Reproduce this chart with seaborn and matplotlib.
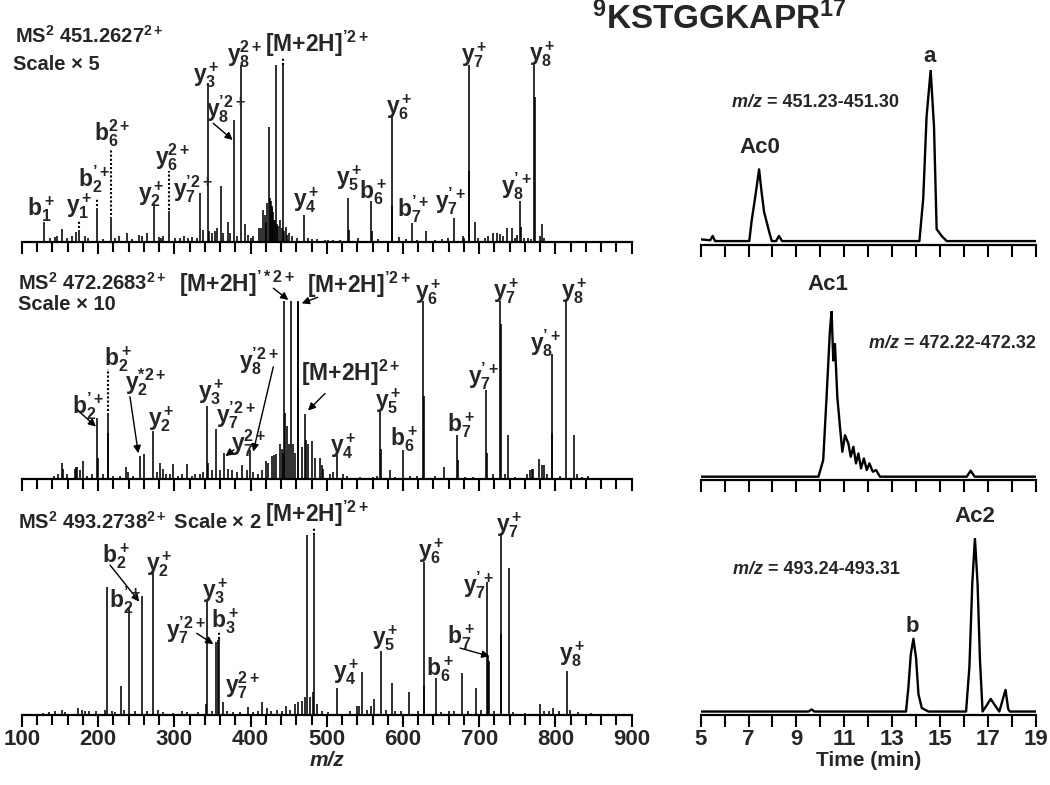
import matplotlib
matplotlib.use("Agg")
import matplotlib.pyplot as plt
import seaborn as sns
import pandas as pd
from matplotlib.ticker import MultipleLocator, FixedLocator

# ---------------- data ----------------
# MS2 451.2627 (2+) : m/z positions and relative intensities
ms1_mz = [129.3, 136.7, 143.3, 146.3, 152.1, 158.7, 165.2, 170.9, 175.2, 182.7, 187.0, 198.4, 206.7,
          216.8, 222.0, 227.7, 237.8, 243.9, 253.9, 257.0, 263.6, 272.8, 280.2, 282.8, 285.4, 292.9,
          300.8, 307.3, 313.0, 318.2, 322.7, 329.3, 334.0, 337.1, 344.1, 345.1, 348.9, 353.3, 355.9,
          360.8, 364.2, 369.9, 373.0, 378.2, 382.2, 387.8, 392.7, 397.0, 400.1, 403.5, 410.6, 413.6,
          416.3, 418.9, 420.2, 421.9, 424.1, 425.5, 426.4, 427.7, 428.5, 429.8, 430.7, 432.0, 433.3,
          435.1, 436.4, 438.6, 440.8, 442.1, 443.8, 446.5, 448.2, 450.8, 453.9, 460.5, 470.5, 475.7,
          480.2, 486.7, 497.6, 501.9, 508.5, 517.3, 527.8, 528.8, 541.4, 558.4, 559.4, 567.6, 585.2,
          586.2, 595.2, 604.0, 611.8, 618.0, 630.2, 642.0, 650.8, 659.5, 667.3, 678.3, 680.4, 686.2,
          687.2, 694.9, 698.8, 707.6, 711.9, 718.5, 722.9, 727.3, 730.8, 736.9, 743.5, 747.0, 749.2,
          754.0, 755.0, 758.8, 764.4, 768.0, 772.3, 773.3, 779.8, 782.0, 785.0]
ms1_int = [0.113, 0.02, 0.025, 0.03, 0.07, 0.02, 0.03, 0.057, 0.066, 0.03, 0.02, 0.19, 0.015,
           0.14, 0.02, 0.03, 0.05, 0.015, 0.038, 0.03, 0.05, 0.213, 0.025, 0.02, 0.03, 0.174,
           0.02, 0.02, 0.03, 0.02, 0.025, 0.02, 0.277, 0.066, 0.896, 0.06, 0.05, 0.06, 0.075,
           0.315, 0.05, 0.113, 0.05, 0.689, 0.03, 1.0, 0.10, 0.04, 0.02, 0.03, 0.08, 0.08,
           0.18, 0.15, 0.11, 0.22, 0.647, 0.25, 0.23, 0.20, 0.19, 0.17, 0.12, 0.12, 1.0,
           0.10, 0.09, 0.12, 0.08, 1.0, 0.06, 0.085, 0.04, 0.05, 0.03, 0.02, 0.15, 0.02,
           0.015, 0.015, 0.01, 0.01, 0.01, 0.01, 0.25, 0.066, 0.02, 0.228, 0.06, 0.015, 0.717,
           0.20, 0.025, 0.015, 0.104, 0.01, 0.062, 0.01, 0.015, 0.02, 0.132, 0.03, 0.02, 1.0,
           0.40, 0.113, 0.02, 0.02, 0.03, 0.05, 0.05, 0.045, 0.03, 0.075, 0.075, 0.02, 0.04,
           0.232, 0.085, 0.02, 0.02, 0.015, 1.0, 0.82, 0.03, 0.10, 0.02]

# MS2 472.2683 (2+)
ms2_mz = [142.4, 147.6, 152.0, 154.2, 158.7, 169.6, 170.9, 172.6, 176.1, 180.5, 185.7, 191.4, 198.8,
          199.8, 205.9, 212.4, 213.4, 219.0, 228.6, 236.5, 239.5, 246.1, 254.9, 260.1, 271.9, 276.8,
          281.0, 285.4, 289.0, 294.2, 298.6, 305.1, 309.6, 316.5, 322.7, 327.0, 333.6, 337.9, 343.2,
          344.2, 348.9, 354.6, 359.8, 365.1, 370.7, 375.2, 381.8, 388.3, 394.9, 399.2, 403.5, 410.1,
          414.6, 419.8, 423.3, 427.7, 430.7, 433.3, 438.6, 440.8, 442.1, 444.2, 445.2, 448.2, 450.8,
          453.0, 456.1, 458.7, 461.8, 462.5, 467.0, 471.4, 472.4, 475.7, 481.0, 484.5, 491.0, 493.3,
          495.5, 504.2, 508.5, 513.0, 521.7, 526.1, 543.6, 561.0, 565.5, 570.2, 571.2, 583.3, 589.5,
          600.4, 609.2, 618.0, 626.2, 627.2, 642.0, 653.8, 671.3, 672.3, 681.4, 692.3, 709.4, 710.4,
          718.5, 727.7, 728.7, 733.9, 738.2, 747.0, 762.3, 766.7, 768.9, 771.0, 778.5, 782.0, 785.5,
          788.5, 795.1, 796.1, 806.0, 813.9, 824.0, 827.9, 834.5, 842.4]
ms2_int = [0.02, 0.03, 0.09, 0.06, 0.03, 0.06, 0.07, 0.07, 0.05, 0.10, 0.02, 0.03, 0.345,
           0.12, 0.03, 0.373, 0.26, 0.02, 0.02, 0.067, 0.04, 0.02, 0.13, 0.14, 0.27, 0.04,
           0.09, 0.06, 0.03, 0.03, 0.084, 0.02, 0.03, 0.086, 0.02, 0.03, 0.03, 0.04, 0.41,
           0.09, 0.05, 0.28, 0.05, 0.15, 0.06, 0.05, 0.04, 0.08, 0.05, 0.164, 0.04, 0.03,
           0.05, 0.10, 0.09, 0.13, 0.136, 0.14, 0.20, 0.17, 0.15, 1.0, 0.37, 0.30, 0.20,
           1.0, 0.20, 0.15, 1.0, 0.99, 0.18, 0.366, 0.22, 0.20, 0.215, 0.12, 0.118, 0.08,
           0.06, 0.03, 0.04, 0.137, 0.03, 0.02, 0.015, 0.015, 0.02, 0.39, 0.17, 0.05, 0.015,
           0.165, 0.02, 0.02, 1.0, 0.465, 0.02, 0.07, 0.246, 0.11, 0.015, 0.015, 0.50, 0.15,
           0.03, 1.0, 0.87, 0.03, 0.25, 0.015, 0.03, 0.05, 0.06, 0.06, 0.113, 0.08, 0.08,
           0.03, 0.70, 0.26, 0.02, 1.0, 0.25, 0.03, 0.015, 0.02]

# MS2 493.2738 (2+)
ms3_mz = [127.9, 135.8, 143.3, 152.1, 156.4, 173.9, 178.3, 182.7, 188.3, 197.1, 208.9, 212.0, 217.7,
          222.0, 229.9, 233.9, 240.0, 248.3, 257.9, 263.6, 271.9, 278.9, 285.4, 298.6, 309.6, 316.1,
          331.4, 341.5, 342.8, 348.9, 354.6, 356.8, 358.5, 364.2, 368.6, 377.3, 386.1, 397.0, 403.5,
          410.1, 414.5, 421.1, 426.4, 434.3, 440.8, 446.5, 451.7, 458.3, 462.6, 467.0, 471.4, 474.4,
          477.9, 481.5, 483.2, 486.7, 493.3, 501.9, 513.1, 530.8, 539.1, 542.9, 545.8, 552.9, 558.5,
          561.3, 571.3, 577.8, 585.1, 589.0, 597.3, 607.3, 619.4, 627.2, 628.2, 642.7, 649.9, 660.9,
          666.4, 677.8, 685.8, 696.2, 702.4, 709.9, 712.0, 713.0, 719.0, 728.0, 729.0, 738.5, 744.0,
          760.6, 779.5, 785.6, 791.1, 797.0, 804.9, 815.3, 818.7, 829.7, 846.5]
ms3_int = [0.01, 0.015, 0.02, 0.03, 0.015, 0.04, 0.03, 0.02, 0.025, 0.02, 0.03, 0.71, 0.025,
           0.015, 0.16, 0.03, 0.596, 0.02, 0.661, 0.02, 0.796, 0.03, 0.015, 0.01, 0.02, 0.015,
           0.015, 0.06, 0.64, 0.02, 0.407, 0.417, 0.42, 0.074, 0.02, 0.015, 0.015, 0.046, 0.015,
           0.02, 0.074, 0.04, 0.02, 0.03, 0.025, 0.05, 0.03, 0.06, 0.07, 0.08, 0.10, 1.0,
           0.10, 0.126, 1.0, 0.06, 0.02, 0.015, 0.149, 0.02, 0.05, 0.05, 0.239, 0.03, 0.05,
           0.088, 0.358, 0.03, 0.18, 0.02, 0.02, 0.13, 0.02, 0.85, 0.16, 0.207, 0.015, 0.02,
           0.025, 0.231, 0.02, 0.149, 0.03, 0.74, 0.327, 0.30, 0.02, 1.0, 0.45, 0.818, 0.015,
           0.01, 0.06, 0.025, 0.02, 0.04, 0.02, 0.244, 0.03, 0.015, 0.01]

# Extracted ion chromatograms: retention time (min) and relative intensity
xic1_t = [5.0, 5.4, 5.5, 5.6, 6.0, 6.95, 7.03, 7.13, 7.27, 7.44, 7.55, 7.65, 7.76, 7.87, 7.97, 8.15,
          8.27, 8.4, 9.0, 10.5, 12.0, 14.0, 14.14, 14.30, 14.44, 14.61, 14.75, 14.86, 15.07, 15.28,
          16.0, 19.0]
xic1_i = [0.01, 0.005, 0.03, 0.0, 0.0, 0.0, 0.0, 0.12, 0.25, 0.42, 0.28, 0.17, 0.11, 0.05, 0.0, 0.0,
          0.03, 0.0, 0.0, 0.0, 0.0, 0.0, 0.0, 0.25, 0.73, 1.0, 0.67, 0.07, 0.03, 0.0,
          0.0, 0.0]
xic2_t = [5.0, 9.0, 9.92, 10.12, 10.26, 10.40, 10.47, 10.54, 10.61, 10.71, 10.82, 10.92, 11.03, 11.17,
          11.27, 11.38, 11.49, 11.59, 11.70, 11.82, 11.94, 12.05, 12.19, 12.33, 12.49, 14.0, 16.12,
          16.28, 16.45, 19.0]
xic2_i = [0.0, 0.0, 0.0, 0.10, 0.48, 0.88, 1.0, 0.70, 0.80, 0.48, 0.30, 0.15, 0.25, 0.20,
          0.12, 0.18, 0.08, 0.14, 0.05, 0.11, 0.04, 0.08, 0.03, 0.04, 0.0, 0.0, 0.0,
          0.036, 0.0, 0.0]
xic3_t = [5.0, 9.5, 9.64, 9.75, 13.58, 13.68, 13.78, 13.89, 14.0, 14.1, 14.24, 14.52, 16.09, 16.23,
          16.35, 16.46, 16.57, 16.67, 16.78, 16.95, 17.12, 17.30, 17.48, 17.65, 17.74, 17.85, 17.92,
          19.0]
xic3_i = [0.0, 0.0, 0.012, 0.0, 0.0, 0.14, 0.33, 0.42, 0.31, 0.10, 0.02, 0.0, 0.0, 0.26,
          0.74, 1.0, 0.74, 0.30, 0.0, 0.035, 0.073, 0.035, 0.0, 0.083, 0.125, 0.015, 0.0,
          0.0]

time_ticks = [5, 7, 9, 11, 13, 15, 17, 19]
spec_titles = ["MS$^2$ 451.2627$^{2+}$", "MS$^2$ 472.2683$^{2+}$", "MS$^2$ 493.2738$^{2+}$"]
xic_ranges = ["= 451.23-451.30", "= 472.22-472.32", "= 493.24-493.31"]

# ---------------- style ----------------
sns.set_theme(style="white")
plt.rcParams["font.family"] = ["Liberation Sans", "DejaVu Sans"]
plt.rcParams["font.weight"] = "bold"
plt.rcParams["mathtext.fontset"] = "custom"
plt.rcParams["mathtext.rm"] = "Liberation Sans:bold"
plt.rcParams["mathtext.bf"] = "Liberation Sans:bold"
plt.rcParams["mathtext.it"] = "Liberation Sans:bold:italic"
plt.rcParams["mathtext.default"] = "bf"

W, H = 1050, 785
fig = plt.figure(figsize=(W / 100, H / 100), dpi=100)
fig.patch.set_facecolor("white")


def ax_px(x0, x1, ytop, ybot):
    return fig.add_axes([x0 / W, 1 - ybot / H, (x1 - x0) / W, (ybot - ytop) / H])


def ftext(x, y, s, size=14.5, ha="left", **kw):
    fig.text(x / W, 1 - y / H, s, ha=ha, va="center", fontsize=size, fontweight="bold", **kw)


LAB = 16.5


def style_axis(ax, labels, lo, hi, major, minor):
    ax.set_facecolor("none")
    for s in ["top", "right", "left"]:
        ax.spines[s].set_visible(False)
    ax.spines["bottom"].set_linewidth(1.6)
    ax.spines["bottom"].set_color("black")
    ax.set_xlim(lo, hi)
    ax.xaxis.set_major_locator(major)
    ax.xaxis.set_minor_locator(minor)
    ax.tick_params(axis="x", which="major", direction="out", length=8.5, width=1.5, color="black",
                   labelsize=16, pad=1.5, labelbottom=labels, bottom=True)
    ax.tick_params(axis="x", which="minor", direction="out", length=7.5, width=1.5, color="black",
                   bottom=True)
    ax.set_yticks([])
    ax.set_ylabel("")
    ax.set_xlabel("")
    ax.grid(False)


def lab(ax, x, y, s, size=LAB):
    ax.text(x, y, s, ha="center", va="center", fontsize=size, fontweight="bold", clip_on=False)


def mz_range(ax, x, y, s, size=13):
    # italic "m/z" followed by the upright range, left-aligned at data position
    t1 = ax.text(x, y, "m/z ", ha="left", va="center", fontsize=size, fontweight="bold",
                 fontstyle="italic", clip_on=False)
    fig.canvas.draw()
    bb = t1.get_window_extent()
    inv = ax.transData.inverted()
    x2 = inv.transform((bb.x1, bb.y0))[0]
    ax.text(x2, y, s, ha="left", va="center", fontsize=size, fontweight="bold", clip_on=False)


def arrow(ax, x1, y1, x2, y2):
    ax.annotate("", xy=(x2, y2), xytext=(x1, y1), annotation_clip=False,
                arrowprops=dict(arrowstyle="-|>", color="black", lw=1.0, mutation_scale=11,
                                shrinkA=0, shrinkB=0))


def dots(ax, x, y0, y1):
    ax.plot([x, x], [y0, y1], color="black", lw=1.5, ls=(0, (1, 1)), clip_on=False)


# ---------------- spectra ----------------
spec_boxes = [(22, 631.6, 65, 241.7), (22, 631.6, 300.7, 479.3), (22, 631.6, 535, 715)]
spectra = [(ms1_mz, ms1_int), (ms2_mz, ms2_int), (ms3_mz, ms3_int)]
spec_axes = []
for k, (box, (mz, it)) in enumerate(zip(spec_boxes, spectra)):
    ax = ax_px(*box)
    df = pd.DataFrame({"mz": mz, "intensity": it})
    ax.vlines(df["mz"], 0, df["intensity"], color="black", lw=1.15)
    style_axis(ax, k == 2, 100, 900, MultipleLocator(100), MultipleLocator(20))
    ax.set_ylim(0, 1.0)
    spec_axes.append(ax)

a1, a2, a3 = spec_axes
a3.set_xlabel("m/z", fontsize=15, fontstyle="italic", fontweight="bold", labelpad=1)

# panel 1 labels
ftext(15, 35.5, spec_titles[0])
ftext(13, 65, "Scale × 5")
lab(a1, 125.3, 0.185, "b$_1^+$")
lab(a1, 174.8, 0.20, "y$_1^+$")
dots(a1, 175.2, 0.075, 0.12)
lab(a1, 194.5, 0.354, "b$_2^{’+}$")
dots(a1, 198.4, 0.2, 0.25)
lab(a1, 218.8, 0.615, "b$_6^{2+}$")
dots(a1, 216.8, 0.15, 0.52)
lab(a1, 269.0, 0.27, "y$_2^+$")
lab(a1, 298.2, 0.476, "y$_6^{2+}$")
dots(a1, 292.9, 0.18, 0.40)
lab(a1, 323.8, 0.298, "y$_7^{’2+}$")
lab(a1, 341.2, 0.943, "y$_3^+$")
lab(a1, 367.7, 0.75, "y$_8^{’2+}$")
arrow(a1, 351.0, 0.67, 376.5, 0.576)
lab(a1, 392.7, 1.062, "y$_8^{2+}$")
lab(a1, 486.7, 1.119, "[M+2H]$^{’2+}$")
dots(a1, 442.1, 1.0, 1.04)
lab(a1, 473.6, 0.236, "y$_4^+$")
lab(a1, 529.4, 0.359, "y$_5^+$")
lab(a1, 560.4, 0.283, "b$_6^+$")
lab(a1, 595.0, 0.764, "y$_6^+$")
lab(a1, 612.7, 0.185, "b$_7^{’+}$")
lab(a1, 662.7, 0.231, "y$_7^{’+}$")
lab(a1, 693.2, 1.057, "y$_7^+$")
lab(a1, 749.2, 0.315, "y$_8^{’+}$")
lab(a1, 783.0, 1.062, "y$_8^+$")

# panel 2 labels
ftext(18, 282.5, spec_titles[1])
ftext(18, 304.5, "Scale × 10")
lab(a2, 381.8, 1.093, "[M+2H]$^{’*2+}$")
arrow(a2, 429.8, 1.07, 449.5, 1.004)
lab(a2, 542.3, 1.09, "[M+2H]$^{’2+}$")
arrow(a2, 487.9, 1.019, 467.1, 0.985)
lab(a2, 187.0, 0.41, "b$_2^{’+}$")
arrow(a2, 172.6, 0.388, 197.1, 0.295)
lab(a2, 225.3, 0.674, "b$_2^+$")
dots(a2, 212.4, 0.38, 0.62)
lab(a2, 262.5, 0.542, "y$_2^{*2+}$")
arrow(a2, 241.7, 0.462, 252.6, 0.146)
lab(a2, 283.3, 0.338, "y$_2^+$")
lab(a2, 348.0, 0.486, "y$_3^+$")
lab(a2, 380.6, 0.36, "y$_7^{’2+}$")
lab(a2, 398.0, 0.205, "y$_7^{2+}$")
arrow(a2, 378.0, 0.165, 367.0, 0.13)
lab(a2, 410.6, 0.663, "y$_8^{’2+}$")
arrow(a2, 429.8, 0.63, 403.5, 0.155)
lab(a2, 531.1, 0.598, "[M+2H]$^{2+}$")
arrow(a2, 497.6, 0.48, 475.3, 0.385)
lab(a2, 521.6, 0.188, "y$_4^+$")
lab(a2, 580.7, 0.438, "y$_5^+$")
lab(a2, 601.6, 0.226, "b$_6^+$")
lab(a2, 633.3, 1.05, "y$_6^+$")
lab(a2, 676.5, 0.304, "b$_7^+$")
lab(a2, 705.4, 0.58, "y$_7^{’+}$")
lab(a2, 734.9, 1.054, "y$_7^+$")
lab(a2, 786.4, 0.76, "y$_8^{’+}$")
lab(a2, 824.7, 1.054, "y$_8^+$")

# panel 3 labels
ftext(18, 521.7, spec_titles[2] + " Scale × 2")
lab(a3, 486.5, 1.115, "[M+2H]$^{’2+}$")
dots(a3, 483.2, 1.0, 1.04)
lab(a3, 223.1, 0.884, "b$_2^+$")
arrow(a3, 215.5, 0.833, 253.9, 0.63)
lab(a3, 235.2, 0.639, "b$_2^{’+}$")
lab(a3, 280.0, 0.839, "y$_2^+$")
lab(a3, 353.3, 0.69, "y$_3^+$")
lab(a3, 315.0, 0.472, "y$_7^{’2+}$")
arrow(a3, 329.3, 0.454, 351.1, 0.394)
lab(a3, 366.4, 0.523, "b$_3^+$")
dots(a3, 358.5, 0.425, 0.46)
lab(a3, 389.4, 0.167, "y$_7^{2+}$")
lab(a3, 525.3, 0.239, "y$_4^+$")
lab(a3, 576.6, 0.427, "y$_5^+$")
lab(a3, 637.4, 0.908, "y$_6^+$")
lab(a3, 648.4, 0.253, "b$_6^+$")
lab(a3, 699.6, 0.72, "y$_7^{’+}$")
lab(a3, 676.1, 0.432, "b$_7^+$")
arrow(a3, 674.8, 0.372, 713.5, 0.326)
lab(a3, 739.8, 1.055, "y$_7^+$")
lab(a3, 821.7, 0.336, "y$_8^+$")

# ---------------- chromatograms ----------------
xic_boxes = [(700.7, 1035.7, 70.3, 244.5), (700.7, 1035.7, 310.7, 480.0), (700.7, 1035.7, 538.3, 715.0)]
xics = [(xic1_t, xic1_i), (xic2_t, xic2_i), (xic3_t, xic3_i)]
xic_axes = []
for k, (box, (t, it)) in enumerate(zip(xic_boxes, xics)):
    ax = ax_px(*box)
    df = pd.DataFrame({"time": t, "intensity": it})
    sns.lineplot(data=df, x="time", y="intensity", ax=ax, color="black", lw=1.7,
                 estimator=None, sort=False)
    style_axis(ax, k == 2, 5, 19, FixedLocator(time_ticks), MultipleLocator(1))
    ax.tick_params(axis="x", which="minor", length=8.5)
    ax.set_ylim(-0.02, 1.0)
    xic_axes.append(ax)

c1, c2, c3 = xic_axes
c3.set_xlabel("Time (min)", fontsize=15, fontweight="bold", labelpad=1)
mz_range(c1, 6.3, 0.813, xic_ranges[0])
lab(c1, 14.57, 1.079, "a", size=16)
lab(c1, 7.48, 0.55, "Ac0", size=16)
lab(c2, 10.33, 1.155, "Ac1", size=16)
mz_range(c2, 12.05, 0.80, xic_ranges[1])
lab(c3, 16.46, 1.125, "Ac2", size=16)
mz_range(c3, 6.33, 0.82, xic_ranges[2])
lab(c3, 13.83, 0.49, "b", size=16)

ftext(719.5, 19, "$^{9}$KSTGGKAPR$^{17}$", size=24, ha="center")

fig.savefig("out.png", dpi=100, facecolor="white")
